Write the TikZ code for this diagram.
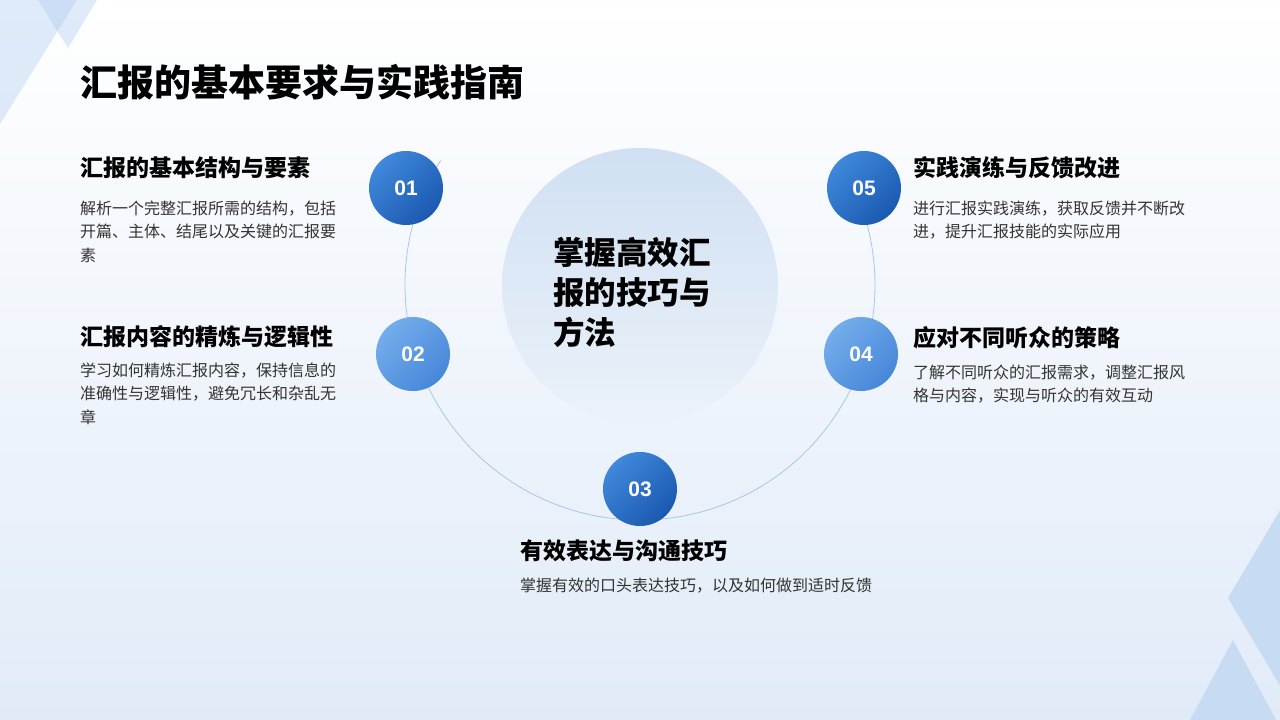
\documentclass[tikz,border=0pt]{standalone}
\usepackage{fontspec}
\setmainfont{Noto Sans CJK SC}
\newfontfamily\numfont{Liberation Sans}
\usepackage{xcolor}
\usetikzlibrary{positioning}
\definecolor{bodycol}{HTML}{333333}
\definecolor{bgbot}{HTML}{E1EBF8}
\definecolor{darkA}{HTML}{3F88DA}
\definecolor{darkB}{HTML}{1A59B0}
\definecolor{lightA}{HTML}{74ADEC}
\definecolor{lightB}{HTML}{4787D8}
\definecolor{ringcol}{HTML}{A9C6E6}
\definecolor{hubA}{HTML}{D0E0F2}
\definecolor{hubB}{HTML}{EBF2FA}
\definecolor{triA}{HTML}{A7C7EE}
\definecolor{triB}{HTML}{C7DBF2}

\begin{document}
\begin{tikzpicture}[x=1pt, y=-1pt,
    numdot/.style={circle, minimum size=74pt, inner sep=0pt, text=white,
      font=\numfont\bfseries\fontsize{21}{21}\selectfont},
    darkdot/.style={numdot, top color=darkA, bottom color=darkB, shading angle=45},
    lightdot/.style={numdot, top color=lightA, bottom color=lightB, shading angle=45},
    headtxt/.style={anchor=base west, inner sep=0pt, font=\bfseries\fontsize{23}{23}\selectfont},
    bodytxt/.style={anchor=base west, inner sep=0pt, text width=300pt, align=left,
      text=bodycol, font=\fontsize{16}{23.5}\selectfont}]
  \useasboundingbox (0,0) rectangle (1280,720);
  % background and corner triangles
  \shade[top color=white, bottom color=bgbot] (0,0) rectangle (1280,720);
  \begin{scope}
    \clip (0,0) rectangle (1280,720);
    \fill[triA, fill opacity=0.35] (-77,0) -- (77,0) -- (0,124) -- cycle;
    \fill[triA, fill opacity=0.35] (38,0) -- (97,0) -- (68,48) -- cycle;
    \fill[triB] (1228,598) -- (1292,490) -- (1292,706) -- cycle;
    \fill[triB] (1190,720) -- (1233,640) -- (1276,720) -- cycle;
  \end{scope}

  \node[anchor=base west, inner sep=0pt, font=\bfseries\fontsize{37}{37}\selectfont]
    (title) at (80,96) {汇报的基本要求与实践指南};

  % ring and hub
  \coordinate (ringc) at (640,285);
  \draw[ringcol, line width=0.8pt] ([shift={(212:235)}]ringc) arc[start angle=212, end angle=-32, radius=235];
  \node[circle, minimum size=276pt, inner sep=0pt, top color=hubA, bottom color=hubB] (hub) at (640,286) {};
  \node[anchor=base west, inner sep=0pt, text width=170pt, align=left,
    font=\bfseries\fontsize{31.5}{40}\selectfont] (hubtxt) at (553,264) {掌握高效汇\\报的技巧与\\方法};

  \node[darkdot] (n1) at (406,188) {01};
  \node[lightdot] (n2) at (413,354) {02};
  \node[darkdot] (n3) at (640,489) {03};
  \node[lightdot] (n4) at (861,354) {04};
  \node[darkdot] (n5) at (864,188) {05};

  % left column
  \node[headtxt] (h1) at (80,176) {汇报的基本结构与要素};
  \node[bodytxt] (b1) at (80,214) {解析一个完整汇报所需的结构，包括\\开篇、主体、结尾以及关键的汇报要\\素};
  \node[headtxt] (h2) at (80,345) {汇报内容的精炼与逻辑性};
  \node[bodytxt] (b2) at (80,376) {学习如何精炼汇报内容，保持信息的\\准确性与逻辑性，避免冗长和杂乱无\\章};

  % bottom
  \node[headtxt] (h3) at (520,559) {有效表达与沟通技巧};
  \node[bodytxt, text width=380pt] (b3) at (520,591) {掌握有效的口头表达技巧，以及如何做到适时反馈};

  % right column
  \node[headtxt] (h4) at (913,346) {应对不同听众的策略};
  \node[bodytxt] (b4) at (913,378) {了解不同听众的汇报需求，调整汇报风\\格与内容，实现与听众的有效互动};
  \node[headtxt] (h5) at (913,176) {实践演练与反馈改进};
  \node[bodytxt] (b5) at (913,214) {进行汇报实践演练，获取反馈并不断改\\进，提升汇报技能的实际应用};
\end{tikzpicture}
\end{document}
